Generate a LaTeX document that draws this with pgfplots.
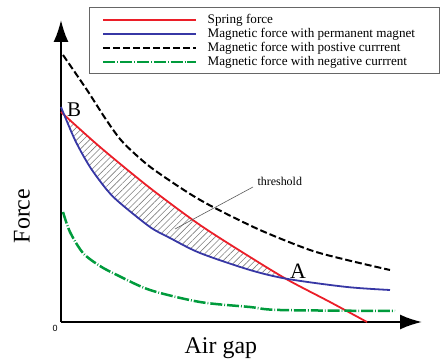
\documentclass[border=0pt]{standalone}
\usepackage{pgfplots}
\pgfplotsset{compat=1.18}
\usepgfplotslibrary{fillbetween}
\usetikzlibrary{arrows.meta,patterns.meta}
\usepackage{fontspec}
\setmainfont{Liberation Serif}
\setsansfont{Liberation Sans}
\definecolor{sred}{RGB}{235,30,40}
\definecolor{pblue}{RGB}{55,55,165}
\definecolor{ngreen}{RGB}{0,155,60}
\begin{document}
\begin{tikzpicture}
\begin{axis}[
  at={(0,0)}, anchor=origin,
  x=1bp, y=1bp,
  xmin=0, xmax=361, ymin=0, ymax=302,
  axis lines=left,
  axis line style={line width=2bp, -{Latex[length=22bp,width=15bp]}},
  xtick=\empty, ytick=\empty,
  clip=false,
  set layers,
  xlabel={Air gap},
  ylabel={Force},
  xlabel style={at={(axis description cs:0.443,-0.086)}, anchor=center, font=\fontsize{24}{28}\selectfont},
  ylabel style={at={(axis description cs:-0.108,0.351)}, anchor=center, font=\fontsize{24}{28}\selectfont},
  legend cell align=left,
  legend image code/.code={\draw[#1] (0bp,0bp) -- (93bp,0bp);},
  legend style={at={(axis description cs:0.0776,1.0397)}, anchor=north west,
    draw=none, fill=none, inner xsep=13bp, inner ysep=5bp,
    row sep=0bp, column sep=10bp,
    font=\fontsize{13.2}{14}\selectfont,
    nodes={inner sep=0pt, text height=10bp, text depth=4bp}},
]
\draw[black!60, line width=1bp] (axis cs:28,314) rectangle (axis cs:378,248);
\addplot[sred, line width=1.8bp, smooth, name path=red] coordinates {
  (0,210) (39,175) (89,134) (139,97) (189,65) (227,42) (269,20) (306,0)};
\addlegendentry{Spring force}
\addplot[pblue, line width=1.8bp, smooth, name path=blue] coordinates {
  (0,215) (14,182) (29,155) (46,132) (59,119) (89,95) (109,84) (139,69) (189,52) (227,43) (286,35) (329,32)};
\addlegendentry{Magnetic force with permanent magnet}
\addplot[black, line width=2bp, smooth, dash pattern=on 7bp off 3bp] coordinates {
  (2,267) (26,232) (44,204) (59,183) (74,168) (92,153) (126,130) (152,115) (199,92) (249,72) (286,62) (329,52)};
\addlegendentry{Magnetic force with postive currrent}
\addplot[ngreen, line width=2.5bp, smooth, dash pattern=on 12bp off 2bp on 0.8bp off 2bp] coordinates {
  (2,110) (9,90) (22,69) (39,56) (56,47) (89,32) (139,20) (189,15) (219,12) (334,11)};
\addlegendentry{Magnetic force with negative currrent}
\addplot[pattern={Lines[angle=45,distance=4.5bp,line width=0.6bp]}, pattern color=gray, draw=none, forget plot]
  fill between[of=red and blue, soft clip={domain=1:227}];
\draw[gray!70!black, line width=0.6bp] (axis cs:192,135) -- (axis cs:114,93);
\node[anchor=west, font=\fontsize{12}{14}\selectfont] at (axis cs:193,141) {threshold};
\node[font=\fontsize{21}{24}\selectfont] at (axis cs:13,212) {B};
\node[font=\fontsize{22}{24}\selectfont] at (axis cs:237,51) {A};
\node[font=\sffamily\fontsize{9}{10}\selectfont] at (axis cs:-6,-6) {0};
\end{axis}
\pgfresetboundingbox
\useasboundingbox (-61bp,-41bp) rectangle (383bp,322bp);
\end{tikzpicture}
\end{document}
